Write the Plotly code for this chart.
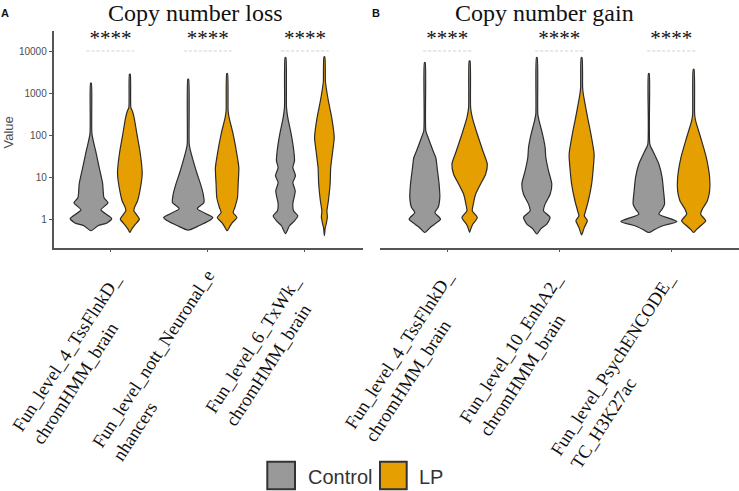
import plotly.graph_objects as go

# ---------------- data ----------------
loss_labels = ["Fun_level_4_TssFlnkD_<br>chromHMM_brain",
               "Fun_level_nott_Neuronal_e<br>nhancers",
               "Fun_level_6_TxWk_<br>chromHMM_brain"]
gain_labels = ["Fun_level_4_TssFlnkD_<br>chromHMM_brain",
               "Fun_level_10_EnhA2_<br>chromHMM_brain",
               "Fun_level_PsychENCODE_<br>TC_H3K27ac"]
groups = ["Control", "LP"]
y_tickvals = [1, 10, 100, 1000, 10000]
y_ticktext = ["1", "10", "100", "1000", "10000"]
loss_signif = ["****", "****", "****"]
gain_signif = ["****", "****", "****"]

# violin profiles: value levels and density (half width)
loss_control_values = [
    [0.54, 0.71, 0.83, 1.06, 1.7, 2.5, 3.3, 7.1, 17, 43, 110, 1770],
    [0.56, 0.71, 0.93, 1.12, 1.8, 2.54, 4, 7, 12, 25, 43, 62, 2200],
    [0.46, 0.71, 0.93, 1.22, 1.61, 2.33, 4.8, 7.6, 11, 17.3, 25, 43, 108, 268, 464, 7200],
]
loss_control_density = [
    [0, 7, 16, 20.7, 10, 17, 13, 11.7, 8.3, 4.7, 1, 0.4],
    [0, 10.7, 20.7, 24.5, 9, 15.7, 15, 12.3, 9, 5, 2.3, 1, 0.4],
    [0, 4, 9, 12.3, 8, 7.3, 9.7, 7.3, 10, 7.3, 9, 8.3, 5.7, 2.3, 1, 0.4],
]
loss_lp_values = [
    [0.49, 0.6, 0.75, 1.02, 1.37, 1.6, 1.9, 2.8, 4.8, 12.2, 21, 43, 110, 264, 387, 464, 2900],
    [0.54, 0.67, 0.83, 1.12, 1.47, 1.93, 3.3, 7, 17, 30, 108, 268, 387, 3000],
    [0.41, 0.63, 0.83, 1.16, 1.6, 2.8, 7, 17.3, 43, 90, 268, 670, 1700, 2000, 7500],
]
loss_lp_density = [
    [0, 2, 5, 9.5, 6, 4, 4.5, 7.7, 10, 12.3, 11.7, 10, 7, 4.3, 2.5, 1, 0.4],
    [0, 2.5, 5, 9.8, 6, 7.7, 10.3, 11, 11.7, 10.3, 6, 2, 1, 0.4],
    [0, 0.8, 2, 3, 2.5, 4, 5.7, 6.3, 8.3, 9.8, 7.3, 4, 1.3, 1, 0.4],
]
gain_control_values = [
    [0.49, 0.63, 0.78, 1.02, 1.47, 1.93, 3.3, 7, 17.3, 30, 43, 90, 129, 5500],
    [0.45, 0.6, 0.78, 1.12, 1.61, 2.33, 4, 7, 14.4, 30, 52, 108, 224, 324, 7200],
    [0.49, 0.58, 0.71, 0.9, 1.35, 1.77, 2.33, 4.8, 10, 21, 43, 62, 3000],
]
gain_control_density = [
    [0, 5, 10, 15.7, 10, 13.3, 15, 14.3, 12.3, 11, 8.3, 3.3, 1, 0.4],
    [0, 4, 10, 13.3, 6.7, 8.3, 13.3, 15, 11.7, 9, 8.3, 5.7, 2.3, 1, 0.4],
    [0, 6, 14, 28, 10, 13.3, 15.7, 14.7, 13.3, 10, 4, 1, 0.4],
]
gain_lp_values = [
    [0.49, 0.63, 0.78, 1.12, 1.61, 2.33, 4, 7, 12, 21, 43, 108, 268, 464, 6000],
    [0.43, 0.65, 0.93, 1.22, 1.61, 2.8, 7, 17.3, 36, 108, 268, 970, 1390, 7200],
    [0.49, 0.58, 0.71, 0.93, 1.35, 1.77, 2.8, 4.8, 10, 30, 90, 224, 324, 3800],
]
gain_lp_density = [
    [0, 1.5, 3.3, 7.7, 2.7, 3.7, 6, 11, 16, 17.7, 13.3, 7.7, 2.7, 1, 0.4],
    [0, 2.7, 5.7, 2.7, 4, 6.7, 10, 11.7, 12.5, 9.3, 6, 1.7, 1, 0.4],
    [0, 3, 7, 12, 7, 8.7, 13.7, 16, 16, 12.7, 7, 2, 1, 0.4],
]
bracket_value = 10400
signif_value = 19000

# ---------------- style ----------------
W, H = 739, 491
COLORS = {"Control": "#999999", "LP": "#E69F00"}
OUTLINE = "#2b2b2b"
SERIF = "Liberation Serif"
SANS = "Liberation Sans"
DODGE = 0.2
YRANGE = [-0.667, 4.493]


def py(p):
    return 1 - p / H


def px(p):
    return p / W


panels = [
    dict(xa="x", ya="y", labels=loss_labels, signif=loss_signif,
         ctrl_v=loss_control_values, ctrl_d=loss_control_density,
         lp_v=loss_lp_values, lp_d=loss_lp_density,
         scale=1 / 97.0, bhalf=0.245,
         lab_xshift=[-33.5, -44.2, -41.5], lab_y=[358.7, 364.5, 351.2]),
    dict(xa="x2", ya="y2", labels=gain_labels, signif=gain_signif,
         ctrl_v=gain_control_values, ctrl_d=gain_control_density,
         lp_v=gain_lp_values, lp_d=gain_lp_density,
         scale=1 / 112.0, bhalf=0.215,
         lab_xshift=[-38, -38.3, -48], lab_y=[356.9, 354.5, 371.2]),
]

fig = go.Figure()
annotations = []


def violin(xc, vals, dens, scale, color, xa, ya):
    xs = [xc + d * scale for d in dens] + [xc - d * scale for d in dens][::-1]
    ys = list(vals) + list(vals)[::-1]
    return go.Scatter(x=xs, y=ys, mode="lines", fill="toself", fillcolor=color,
                      line=dict(color=OUTLINE, width=1.2, shape="spline", smoothing=0.6),
                      xaxis=xa, yaxis=ya, hoverinfo="skip", showlegend=False)


for p in panels:
    for i in range(len(p["labels"])):
        fig.add_trace(violin(i - DODGE, p["ctrl_v"][i], p["ctrl_d"][i], p["scale"],
                             COLORS["Control"], p["xa"], p["ya"]))
        fig.add_trace(violin(i + DODGE, p["lp_v"][i], p["lp_d"][i], p["scale"],
                             COLORS["LP"], p["xa"], p["ya"]))
        # significance bracket
        fig.add_trace(go.Scatter(x=[i - p["bhalf"], i + p["bhalf"]],
                                 y=[bracket_value, bracket_value], mode="lines",
                                 line=dict(color="#c4c4c4", width=0.8, dash="3px,2px"),
                                 xaxis=p["xa"], yaxis=p["ya"], hoverinfo="skip",
                                 showlegend=False))
        fig.add_trace(go.Scatter(x=[i], y=[signif_value], mode="text",
                                 text=[p["signif"][i]], textposition="middle center",
                                 textfont=dict(family=SERIF, size=21, color="#111"),
                                 xaxis=p["xa"], yaxis=p["ya"], hoverinfo="skip",
                                 showlegend=False))
        annotations.append(dict(
            x=i, xref=p["xa"], y=py(p["lab_y"][i]), yref="paper",
            xshift=p["lab_xshift"][i], text=p["labels"][i], showarrow=False,
            textangle=-57, align="left", xanchor="center", yanchor="middle",
            font=dict(family=SERIF, size=18.5, color="#111")))

axis_common = dict(showgrid=False, zeroline=False)
fig.update_layout(
    width=W, height=H,
    margin=dict(l=0, r=0, t=0, b=0),
    paper_bgcolor="white", plot_bgcolor="white",
    showlegend=False,
    font=dict(family=SANS),
    xaxis=dict(domain=[px(53.5), px(363.3)], range=[-0.585, 2.6], anchor="y",
               tickvals=[0, 1, 2], showticklabels=False, ticks="outside",
               ticklen=3, tickcolor="#555", showline=True, linecolor="#555",
               linewidth=1.5, **axis_common),
    yaxis=dict(domain=[py(247.5), py(31)], type="log", range=YRANGE, anchor="x",
               tickvals=y_tickvals, ticktext=y_ticktext, ticks="outside", ticklen=3,
               tickcolor="#555", showline=True, linecolor="#555", linewidth=1.5,
               tickfont=dict(family=SANS, size=10, color="#4d4d4d"), **axis_common),
    xaxis2=dict(domain=[px(380), 1.0], range=[-0.6, 2.605], anchor="y2",
                tickvals=[0, 1, 2], showticklabels=False, ticks="outside",
                ticklen=3, tickcolor="#555", showline=True, linecolor="#555",
                linewidth=1.5, **axis_common),
    yaxis2=dict(domain=[py(247.5), py(31)], type="log", range=YRANGE, anchor="x2",
                visible=False, **axis_common),
)

# titles and panel tags
annotations += [
    dict(x=px(195), y=py(13), xref="paper", yref="paper", text="Copy number loss",
         showarrow=False, xanchor="center", yanchor="middle",
         font=dict(family=SERIF, size=24, color="#111")),
    dict(x=px(544.7), y=py(13), xref="paper", yref="paper", text="Copy number gain",
         showarrow=False, xanchor="center", yanchor="middle",
         font=dict(family=SERIF, size=24, color="#111")),
    dict(x=px(5), y=py(12.5), xref="paper", yref="paper", text="<b>A</b>",
         showarrow=False, xanchor="center", yanchor="middle",
         font=dict(family=SANS, size=11, color="#111")),
    dict(x=px(376), y=py(12.5), xref="paper", yref="paper", text="<b>B</b>",
         showarrow=False, xanchor="center", yanchor="middle",
         font=dict(family=SANS, size=11, color="#111")),
    dict(x=px(8.5), y=py(133), xref="paper", yref="paper", text="Value",
         showarrow=False, textangle=-90, xanchor="center", yanchor="middle",
         font=dict(family=SANS, size=13, color="#4d4d4d")),
]

# legend (drawn manually)
legend_boxes = [(267.3, 295, 306), (380, 406.7, 416.7)]
shapes = []
for g, (x0, x1, tx) in zip(groups, legend_boxes):
    shapes.append(dict(type="rect", xref="paper", yref="paper",
                       x0=px(x0), x1=px(x1), y0=py(489.3), y1=py(461.7),
                       fillcolor=COLORS[g], line=dict(color="#333", width=2)))
    annotations.append(dict(x=px(tx), y=py(476.5), xref="paper", yref="paper",
                            text=g, showarrow=False, xanchor="left", yanchor="middle",
                            font=dict(family=SANS, size=20, color="#333")))

fig.update_layout(annotations=annotations, shapes=shapes)
fig.write_html("out.html",
               config={"displayModeBar": False},
               post_script="document.body.style.margin='0px';"
                           "document.body.style.overflow='hidden';")
